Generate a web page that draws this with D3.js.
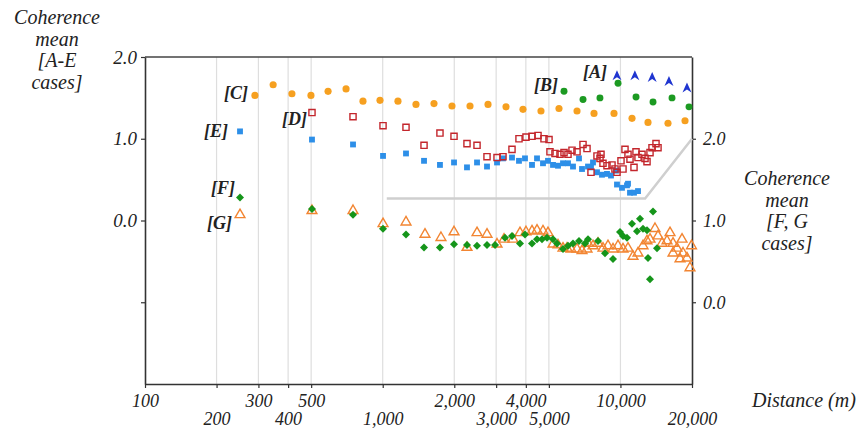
<!DOCTYPE html>
<html>
<head>
<meta charset="utf-8">
<script src="https://cdn.jsdelivr.net/npm/d3@7"></script>
<style>
  body { margin: 0; background: #fff; }
  svg { display: block; background: #fff; }
</style>
</head>
<body>
<svg class="target"></svg>
<script>
// [distance (m), coherence mean]
// A-E use the left axis, F and G the right axis
const caseA = [[9670,1.77],[11500,1.77],[13600,1.75],[16000,1.70],[19050,1.62]];
const caseB = [[5790,1.58],[6960,1.48],[8200,1.50],[9770,1.68],[11630,1.51],[13710,1.45],[16480,1.50],[19430,1.39]];
const caseC = [[290,1.53],[346,1.66],[415,1.55],[499,1.53],[589,1.58],[701,1.61],[826,1.46],[974,1.47],
  [1159,1.46],[1380,1.42],[1643,1.43],[1956,1.40],[2329,1.40],[2773,1.42],[3301,1.39],[3891,1.36],
  [4632,1.34],[5514,1.37],[6567,1.34],[7742,1.31],[9396,1.31],[11186,1.25],[13060,1.20],[15852,1.19],[18690,1.22]];
const caseD = [[504,1.32],[750,1.27],[1003,1.16],[1253,1.14],[1492,0.92],[1741,1.07],[1995,1.03],[2262,0.94],
  [2493,0.92],[2746,0.78],[3026,0.77],[3206,0.78],[3498,0.87],[3743,1.00],[4006,1.02],[4246,1.03],[4500,1.04],
  [4769,1.00],[5006,0.99],[5054,0.84],[5305,0.82],[5569,0.81],[5789,0.83],[6017,0.81],[6255,0.86],[6566,0.84],
  [6959,0.93],[7234,0.88],[7519,0.59],[7969,0.79],[8204,0.76],[8283,0.81],[8445,0.70],[8779,0.67],[9215,0.68],
  [9486,0.63],[9672,0.59],[10054,0.73],[10251,0.63],[10451,0.87],[10760,0.81],[10970,0.75],[11404,0.65],
  [11627,0.84],[11855,0.77],[12323,0.81],[12687,0.76],[12935,0.72],[13316,0.83],[13577,0.89],[14113,0.94],[14390,0.89]];
const caseE = [[251,1.09],[504,0.99],[750,0.93],[1003,0.79],[1253,0.82],[1492,0.73],[1741,0.68],[1995,0.71],
  [2262,0.65],[2493,0.71],[2746,0.66],[3026,0.71],[3206,0.76],[3498,0.77],[3743,0.73],[3967,0.76],[4246,0.68],
  [4457,0.76],[4723,0.70],[4957,0.73],[5204,0.68],[5462,0.67],[5733,0.70],[6017,0.70],[6316,0.66],[6694,0.76],
  [6892,0.63],[7304,0.66],[7519,0.65],[7666,0.71],[7969,0.59],[8364,0.56],[8779,0.57],[9126,0.55],[9579,0.61],
  [9672,0.44],[10152,0.40],[10656,0.43],[10760,0.45],[10970,0.34],[11404,0.34],[11855,0.36]];
const caseF = [[251,1.28],[504,1.14],[750,1.07],[1003,0.90],[1253,0.83],[1492,0.67],[1741,0.67],[1995,0.71],
  [2262,0.70],[2493,0.69],[2746,0.70],[2968,0.70],[3269,0.79],[3498,0.81],[3780,0.72],[3967,0.83],[4246,0.72],
  [4457,0.77],[4677,0.77],[4910,0.79],[5204,0.77],[5409,0.72],[5733,0.65],[6017,0.69],[6316,0.72],[6694,0.75],
  [7095,0.72],[7304,0.77],[8047,0.75],[8611,0.60],[9304,0.53],[9957,0.86],[10251,0.81],[10656,0.79],[11185,0.96],
  [11741,0.87],[12087,1.02],[12443,0.90],[12935,0.88],[13061,0.54],[13316,0.28],[13709,1.11],[14251,0.66]];
const caseG = [[251,1.07],[504,1.12],[750,1.12],[1003,0.96],[1253,0.98],[1506,0.83],[1758,0.79],[1995,0.86],
  [2262,0.67],[2493,0.85],[2746,0.83],[3026,0.71],[3238,0.77],[3532,0.77],[3780,0.85],[4006,0.86],[4246,0.87],
  [4457,0.88],[4723,0.87],[4957,0.85],[5204,0.71],[5462,0.70],[5733,0.66],[5959,0.66],[6195,0.65],[6566,0.65],
  [6892,0.63],[7234,0.65],[7304,0.72],[7666,0.69],[8047,0.72],[8445,0.66],[8864,0.69],[9304,0.65],[9766,0.69],
  [10251,0.65],[10760,0.66],[11294,0.56],[11855,0.60],[12443,0.69],[12935,0.75],[13316,0.77],[13977,0.90],
  [14390,0.81],[14958,0.72],[15701,0.75],[16164,0.85],[16641,0.72],[16641,0.60],[17298,0.66],[17806,0.53],
  [18158,0.77],[18334,0.60],[19054,0.54],[19616,0.42],[19900,0.69]];
// grey bracket under case E, in left-axis units
const bracket = [[1040,0.27],[12700,0.27],[20000,1.0]];

const gridDistances = [200, 300, 400, 500, 1000, 2000, 3000, 4000, 5000, 10000];
const xTicksUpper = [100, 300, 500, 2000, 4000, 10000];
const xTicksLower = [200, 400, 1000, 3000, 5000, 20000];
const leftTicks = [-1, 0, 1, 2];
const rightTicks = [0, 1, 2];
const caseNames = ["[A]", "[B]", "[C]", "[D]", "[E]", "[F]", "[G]"];

const serif = '"Liberation Serif", "Times New Roman", serif';

document.addEventListener("DOMContentLoaded", function() {
    drawChart();
});

function drawChart() {
    const width = 862;
    const height = 431;
    const svg = d3.select(".target")
        .attr("width", width)
        .attr("height", height);

    const x = d3.scaleLog().domain([100, 20000]).range([145, 692]);
    const yL = d3.scaleLinear().domain([-2, 2]).range([384, 57]);
    const yR = d3.scaleLinear().domain([-1, 3]).range([384, 57]);

    // vertical grid
    svg.append("g")
        .selectAll("line")
        .data(gridDistances)
        .join("line")
        .attr("x1", d => x(d)).attr("x2", d => x(d))
        .attr("y1", yL.range()[0]).attr("y2", yL.range()[1])
        .attr("stroke", "#dedede")
        .attr("stroke-width", 1.2);

    // top border
    svg.append("line")
        .attr("x1", x(100)).attr("x2", x(20000))
        .attr("y1", yL(2)).attr("y2", yL(2))
        .attr("stroke", "#444").attr("stroke-width", 1.3);

    function styleAxis(g, size) {
        g.attr("font-family", null).attr("font-size", null);
        g.select(".domain").attr("stroke", "#333").attr("stroke-width", 1.6);
        g.selectAll(".tick line").attr("stroke", "#333").attr("stroke-width", 1.2);
        g.selectAll("text")
            .attr("font-family", serif)
            .attr("font-style", "italic")
            .attr("font-size", size)
            .attr("fill", "#222");
    }

    // x axis, labels in two rows
    svg.append("g")
        .attr("transform", "translate(0," + yL(-2) + ")")
        .call(d3.axisBottom(x).tickValues(xTicksUpper).tickFormat(d3.format(","))
            .tickSize(4).tickPadding(6).tickSizeOuter(0))
        .call(g => styleAxis(g, 18));
    svg.append("g")
        .attr("transform", "translate(0," + yL(-2) + ")")
        .call(d3.axisBottom(x).tickValues(xTicksLower).tickFormat(d3.format(","))
            .tickSize(4).tickPadding(24).tickSizeOuter(0))
        .call(g => styleAxis(g, 18))
        .call(g => g.select(".domain").remove());

    svg.append("g")
        .attr("transform", "translate(" + x(100) + ",0)")
        .call(d3.axisLeft(yL).tickValues(leftTicks)
            .tickFormat(d => d >= 0 ? d3.format(".1f")(d) : "")
            .tickSize(4).tickPadding(4).tickSizeOuter(0))
        .call(g => styleAxis(g, 19));

    svg.append("g")
        .attr("transform", "translate(" + x(20000) + ",0)")
        .call(d3.axisRight(yR).tickValues(rightTicks).tickFormat(d3.format(".1f"))
            .tickSize(4).tickPadding(7).tickSizeOuter(0))
        .call(g => styleAxis(g, 18));

    // grey bracket
    svg.append("path")
        .datum(bracket)
        .attr("fill", "none")
        .attr("stroke", "#cfcfcf")
        .attr("stroke-width", 2.5)
        .attr("d", d3.line().x(d => x(d[0])).y(d => yL(d[1])));

    const arrow = "M0,-5.5L4.5,4.5L0,1.5L-4.5,4.5Z";
    const diamond = "M0,-4L4,0L0,4L-4,0Z";
    const tri = d3.symbol(d3.symbolTriangle, 42)();
    const sq = d3.symbol(d3.symbolSquare, 34)();
    const sqOpen = d3.symbol(d3.symbolSquare, 38)();

    function plot(data, y, shape, fill, stroke, sw) {
        svg.append("g")
            .selectAll("path")
            .data(data)
            .join("path")
            .attr("transform", d => "translate(" + x(d[0]) + "," + y(d[1]) + ")")
            .attr("d", shape)
            .attr("fill", fill)
            .attr("stroke", stroke)
            .attr("stroke-width", sw);
    }

    plot(caseC, yL, d3.symbol(d3.symbolCircle, 40)(), "#f6a020", "none", 0);
    plot(caseB, yL, d3.symbol(d3.symbolCircle, 38)(), "#1c9a22", "none", 0);
    plot(caseA, yL, arrow, "#1f35d0", "none", 0);
    plot(caseE, yL, sq, "#2d8fe8", "none", 0);
    plot(caseD, yL, sqOpen, "none", "#c3262c", 1.4);
    plot(caseG, yR, tri, "none", "#f28532", 1.4);
    plot(caseF, yR, diamond, "#15951a", "none", 0);

    // case labels next to first point of each series
    const firsts = [
        [caseA[0], yL, -10, 2], [caseB[0], yL, -6, 0], [caseC[0], yL, -7, 4],
        [caseD[0], yL, -5, 12], [caseE[0], yL, -12, 6], [caseF[0], yR, -5, -4],
        [caseG[0], yR, -8, 14]
    ];
    svg.append("g")
        .selectAll("text")
        .data(caseNames)
        .join("text")
        .attr("x", (d, i) => x(firsts[i][0][0]) + firsts[i][2])
        .attr("y", (d, i) => firsts[i][1](firsts[i][0][1]) + firsts[i][3])
        .attr("text-anchor", "end")
        .attr("font-family", serif)
        .attr("font-style", "italic")
        .attr("font-weight", "bold")
        .attr("font-size", 18)
        .attr("fill", "#222")
        .text(d => d);

    // axis titles
    function title(lines, cx, y0) {
        const t = svg.append("text")
            .attr("font-family", serif)
            .attr("font-style", "italic")
            .attr("font-size", 20)
            .attr("fill", "#222")
            .attr("text-anchor", "middle");
        lines.forEach(function(s, i) {
            t.append("tspan").attr("x", cx).attr("y", y0 + i * 21.5).text(s);
        });
    }
    title(["Coherence", "mean", "[A-E", "cases]"], 57, 24);
    title(["Coherence", "mean", "[F, G", "cases]"], 787, 185);

    svg.append("text")
        .attr("x", 752).attr("y", 407)
        .attr("font-family", serif)
        .attr("font-style", "italic")
        .attr("font-size", 20)
        .attr("fill", "#222")
        .text("Distance (m)");
}
</script>
</body>
</html>
